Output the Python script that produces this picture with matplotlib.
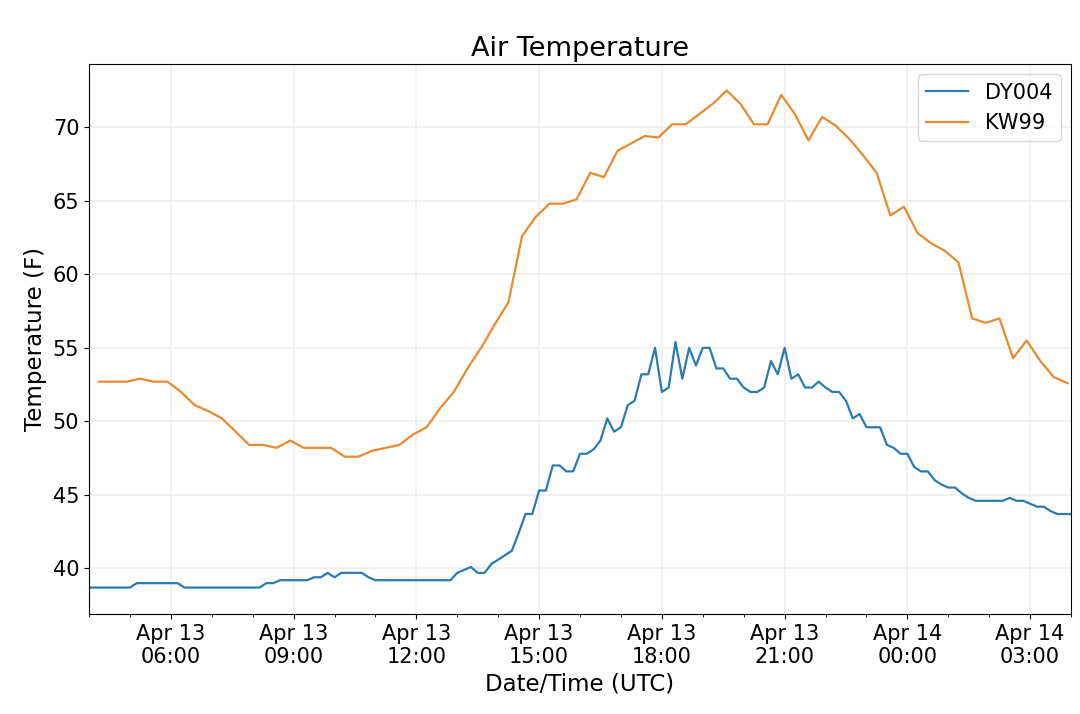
import pandas as pd
import matplotlib
matplotlib.use("Agg")
import matplotlib.pyplot as plt
import matplotlib.dates as mdates

# DY004: 10-minute readings, Apr 13 04:00 -> Apr 14 04:00 UTC
dy004_times = pd.date_range("2019-04-13 04:00", "2019-04-14 04:00", freq="10min")
dy004_temp = [
    38.7, 38.7, 38.7, 38.7, 38.7, 38.7,   # 04h
    38.7, 39.0, 39.0, 39.0, 39.0, 39.0,   # 05h
    39.0, 39.0, 38.7, 38.7, 38.7, 38.7,   # 06h
    38.7, 38.7, 38.7, 38.7, 38.7, 38.7,   # 07h
    38.7, 38.7, 39.0, 39.0, 39.2, 39.2,   # 08h
    39.2, 39.2, 39.2, 39.4, 39.4, 39.7,   # 09h
    39.4, 39.7, 39.7, 39.7, 39.7, 39.4,   # 10h
    39.2, 39.2, 39.2, 39.2, 39.2, 39.2,   # 11h
    39.2, 39.2, 39.2, 39.2, 39.2, 39.2,   # 12h
    39.7, 39.9, 40.1, 39.7, 39.7, 40.3,   # 13h
    40.6, 40.9, 41.2, 42.4, 43.7, 43.7,   # 14h
    45.3, 45.3, 47.0, 47.0, 46.6, 46.6,   # 15h
    47.8, 47.8, 48.1, 48.7, 50.2, 49.3,   # 16h
    49.6, 51.1, 51.4, 53.2, 53.2, 55.0,   # 17h
    52.0, 52.3, 55.4, 52.9, 55.0, 53.8,   # 18h
    55.0, 55.0, 53.6, 53.6, 52.9, 52.9,   # 19h
    52.3, 52.0, 52.0, 52.3, 54.1, 53.2,   # 20h
    55.0, 52.9, 53.2, 52.3, 52.3, 52.7,   # 21h
    52.3, 52.0, 52.0, 51.4, 50.2, 50.5,   # 22h
    49.6, 49.6, 49.6, 48.4, 48.2, 47.8,   # 23h
    47.8, 46.9, 46.6, 46.6, 46.0, 45.7,   # 00h
    45.5, 45.5, 45.1, 44.8, 44.6, 44.6,   # 01h
    44.6, 44.6, 44.6, 44.8, 44.6, 44.6,   # 02h
    44.4, 44.2, 44.2, 43.9, 43.7, 43.7,   # 03h
    43.7,
]

# KW99: 20-minute readings, Apr 13 04:15 -> Apr 14 03:55 UTC
kw99_times = pd.date_range("2019-04-13 04:15", "2019-04-14 03:55", freq="20min")
kw99_temp = [
    52.7, 52.7, 52.7, 52.9, 52.7, 52.7,
    52.0, 51.1, 50.7, 50.2, 49.3, 48.4,
    48.4, 48.2, 48.7, 48.2, 48.2, 48.2,
    47.6, 47.6, 48.0, 48.2, 48.4, 49.1,
    49.6, 50.9, 52.0, 53.6, 55.0, 56.6,
    58.1, 62.6, 63.9, 64.8, 64.8, 65.1,
    66.9, 66.6, 68.4, 68.9, 69.4, 69.3,
    70.2, 70.2, 70.9, 71.6, 72.5, 71.6,
    70.2, 70.2, 72.2, 70.9, 69.1, 70.7,
    70.1, 69.2, 68.1, 66.9, 64.0, 64.6,
    62.8, 62.1, 61.6, 60.8, 57.0, 56.7,
    57.0, 54.3, 55.5, 54.1, 53.0, 52.6,
]

fig = plt.figure(figsize=(10.8, 7.14), dpi=100)
ax = fig.add_axes([0.0824, 0.140, 0.9093, 0.7704])

ax.plot(dy004_times, dy004_temp, color="#2b7bb0", linewidth=1.6, label="DY004")
ax.plot(kw99_times, kw99_temp, color="#e88a30", linewidth=1.6, label="KW99")

ax.set_xlim(pd.Timestamp("2019-04-13 04:00"), pd.Timestamp("2019-04-14 04:00"))
ax.set_ylim(36.9, 74.3)

ax.xaxis.set_major_locator(mdates.HourLocator(byhour=range(0, 24, 3)))
ax.xaxis.set_minor_locator(mdates.HourLocator())
ax.xaxis.set_major_formatter(mdates.DateFormatter("%b %d\n%H:%M"))

ax.grid(True, color="#ededed", linewidth=1.2)
ax.tick_params(axis="both", which="major", labelsize=15)

ax.set_title("Air Temperature", fontsize=19.5, pad=6)
ax.set_xlabel("Date/Time (UTC)", fontsize=16.5, labelpad=4)
ax.set_ylabel("Temperature (F)", fontsize=16.5)
ax.legend(loc="upper right", fontsize=15)

fig.savefig("out.png", dpi=100)
